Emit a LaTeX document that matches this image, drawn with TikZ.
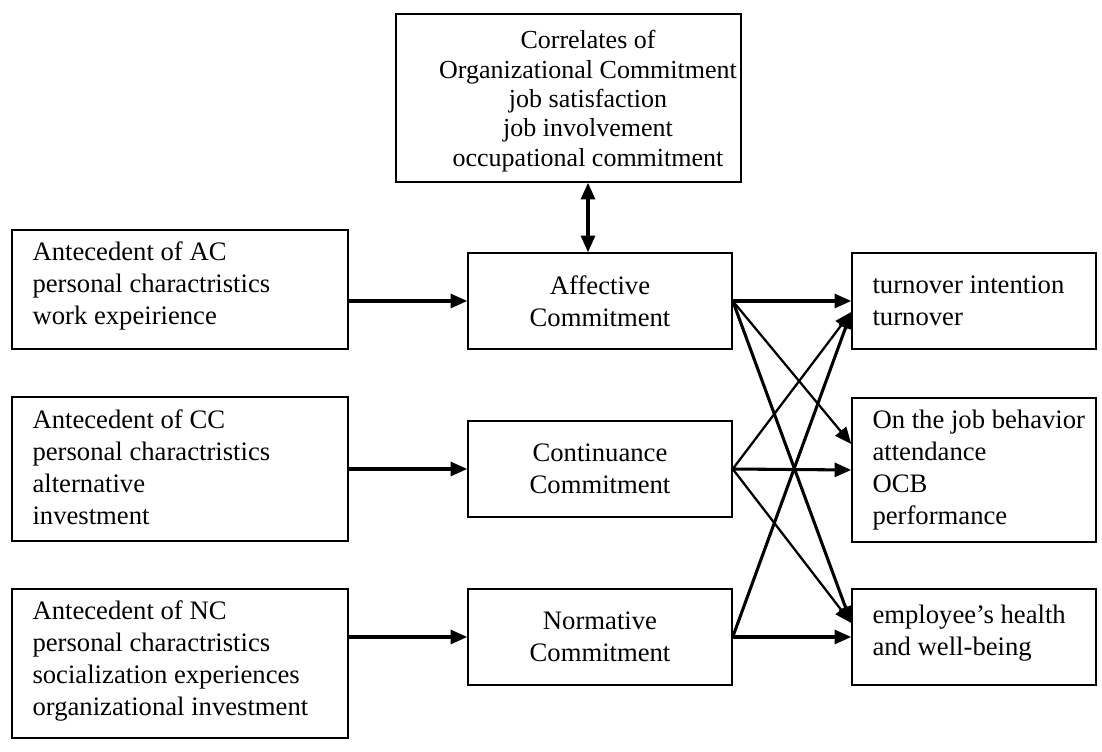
\documentclass[tikz,border=0pt]{standalone}
\usepackage{fontspec}
\setmainfont{Liberation Serif}
\usetikzlibrary{arrows.meta,calc}
\begin{document}
\begin{tikzpicture}[x=0.75pt,y=-0.75pt,
  >={Triangle[length=12.5pt,width=10.5pt]},
  box/.style={draw,line width=1.1pt,inner sep=0pt},
  ltxt/.style={font=\fontsize{20}{24}\selectfont,inner sep=0pt,align=left,anchor=west},
  ctxt/.style={font=\fontsize{19.5}{22}\selectfont,inner sep=0pt,align=center},
  mbox/.style={box,minimum width=198pt,minimum height=72pt,align=center,font=\fontsize{20}{24}\selectfont},
  lbox/.style={box,minimum width=252pt},
  rbox/.style={box,minimum width=183pt},
  arr/.style={line width=2.3pt,->},
  thinarr/.style={line width=1.7pt,->}]
\useasboundingbox (0,0) rectangle (1102,752);
% top box
\node[box,minimum width=258.75pt,minimum height=126pt] (top) at (568.5,98) {};
\node[ctxt] (toptxt) at (588,101) {Correlates of\\Organizational Commitment\\job satisfaction\\job involvement\\occupational commitment};
% left boxes
\node[lbox,minimum height=89.25pt] (ac) at (180,289.5) {};
\node[ltxt] (actxt) at ($(ac.west)+(21,-4)$) {Antecedent of AC\\personal charactristics\\work expeirience};
\node[lbox,minimum height=108pt] (cc) at (180,469) {};
\node[ltxt] (cctxt) at ($(cc.west)+(21,-2)$) {Antecedent of CC\\personal charactristics\\alternative\\investment};
\node[lbox,minimum height=111.75pt] (nc) at (180,663.5) {};
\node[ltxt] (nctxt) at ($(nc.west)+(21,-3)$) {Antecedent of NC\\personal charactristics\\socialization experiences\\organizational investment};
% middle boxes
\node[mbox] (aff) at (600,301) {Affective\\Commitment};
\node[mbox] (cont) at (600,469) {Continuance\\Commitment};
\node[mbox] (norm) at (600,637) {Normative\\Commitment};
% right boxes
\node[rbox,minimum height=72pt] (to) at (974,301) {};
\node[ltxt] (totxt) at ($(to.west)+(21,0)$) {turnover intention\\turnover};
\node[rbox,minimum height=108pt] (job) at (974,470) {};
\node[ltxt] (jobtxt) at ($(job.west)+(21,0)$) {On the job behavior\\attendance\\OCB\\performance};
\node[rbox,minimum height=72pt] (health) at (974,637) {};
\node[ltxt] (healthtxt) at ($(health.west)+(21,-4)$) {employee’s health\\and well-being};
% connectors
\draw[line width=2.3pt,<->] ($(top.south)+(19.5,0)$) -- ($(aff.north)+(-12,0)$);
\draw[arr] (ac.east |- aff.west) -- (aff.west);
\draw[arr] (cc.east) -- (cont.west);
\draw[arr] (nc.east |- norm.west) -- (norm.west);
\coordinate (toin) at ($(to.west)+(0,11)$);
\coordinate (jobin) at ($(job.west)+(0,-26)$);
\coordinate (hin) at ($(health.west)+(0,-14)$);
\draw[arr] (aff.east) -- (to.west);
\draw[thinarr] (aff.east) -- (jobin);
\draw[arr] (aff.east) -- (hin);
\draw[thinarr] (cont.east) -- (toin);
\draw[arr] (cont.east) -- (job.west);
\draw[thinarr] (cont.east) -- (hin);
\draw[arr] (norm.east) -- (toin);
\draw[arr] (norm.east) -- (health.west);
\end{tikzpicture}
\end{document}
